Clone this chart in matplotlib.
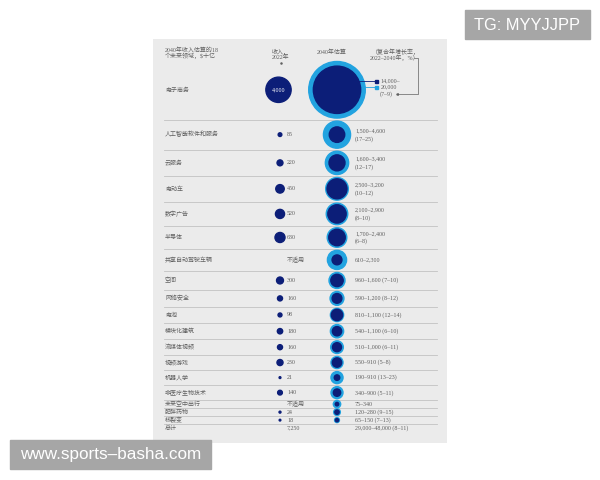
import matplotlib
matplotlib.use("Agg")
import matplotlib.pyplot as plt
import numpy as np
from matplotlib.patches import Circle, Rectangle

plt.rcParams["font.family"] = ["Liberation Serif", "Noto Sans CJK SC", "DejaVu Sans"]

# data (USD billions)
sectors = ["电子商务", "人工智能软件和服务", "云服务", "电动车", "数字广告", "半导体",
           "共享自动驾驶车辆", "空间", "网络安全", "电池", "模块化建筑", "流媒体视频",
           "视频游戏", "机器人学", "非医疗生物技术", "未来空中出行", "肥胖药物", "核裂变"]
revenue_2022 = [4000, 85, 220, 450, 520, 630, None, 300, 160, 98, 180, 160,
                230, 21, 140, None, 24, 18]
low_2040 = [14000, 1500, 1600, 2500, 2100, 1700, 610, 960, 590, 810, 540, 510,
            550, 190, 340, 75, 120, 65]
high_2040 = [20000, 4600, 3400, 3200, 2900, 2400, 2300, 1600, 1200, 1100, 1100, 1000,
             910, 910, 900, 340, 280, 150]
cagr = ["7–9", "17–25", "12–17", "10–12", "8–10", "6–8", None, "7–10", "8–12",
        "12–14", "6–10", "6–11", "5–8", "13–23", "5–11", None, "9–15", "7–13"]
total_2022 = 7250
total_2040 = (29000, 48000)
total_cagr = "8–11"

DARK = "#0c1e78"
LIGHT = "#22a3e0"
TEXT = "#606060"
LINE = "#c2c2c2"
PANEL = "#ebebeb"
FS = 4.3
K = 0.2  # px radius per sqrt(value)

fig = plt.figure(figsize=(6, 4.8), dpi=100)
ax = fig.add_axes([0, 0, 1, 1])
ax.set_xlim(0, 600)
ax.set_ylim(480, 0)
ax.axis("off")

ax.add_patch(Rectangle((153, 39), 294, 404, facecolor=PANEL, edgecolor="none", zorder=0))

def fmt(v):
    return f"{v:,}"

# header
ax.text(165, 50, "2040年收入估算的18", fontsize=FS, color=TEXT, va="center")
ax.text(165, 56, "个未来领域，$十亿", fontsize=FS, color=TEXT, va="center")
ax.text(281, 52, "收入，", fontsize=FS, color=TEXT, va="center", ha="center")
ax.text(281, 57.5, "2022年", fontsize=FS, color=TEXT, va="center", ha="center")
ax.plot([281], [63], marker="o", ms=0.8, color=TEXT)
ax.text(332, 52, "2040年估算", fontsize=FS, color=TEXT, va="center", ha="center")
ax.text(396, 52, "（复合年增长率，", fontsize=FS, color=TEXT, va="center", ha="center")
ax.text(395, 57.5, "2022–2040年，%）", fontsize=FS, color=TEXT, va="center", ha="center")

r_out = K * np.sqrt(np.array(high_2040, dtype=float))
r_in = K * np.sqrt(np.array(low_2040, dtype=float))
heights = np.where(r_out > 5, 2 * r_out + 3, 8.0)

x_rev, x_rev_txt, x_fut, x_fut_txt = 280, 287, 337, 355
top = 60.0
for i, name in enumerate(sectors):
    yc = top + heights[i] / 2
    ax.text(165, yc, name, fontsize=FS, color=TEXT, va="center")
    rev = revenue_2022[i]
    if rev is None:
        ax.text(x_rev_txt, yc, "不适用", fontsize=FS, color=TEXT, va="center")
    else:
        r = K * np.sqrt(rev)
        if i == 0:
            ax.add_patch(Circle((x_rev - 1.5, yc), r, color=DARK, zorder=3))
            ax.text(x_rev - 1.5, yc, fmt(rev), fontsize=FS, color="white",
                    va="center", ha="center", zorder=4)
        else:
            ax.add_patch(Circle((x_rev, yc), r, color=DARK, zorder=3))
            ax.text(x_rev_txt, yc, fmt(rev), fontsize=FS, color=TEXT, va="center")
    ax.add_patch(Circle((x_fut, yc), r_out[i], color=LIGHT, zorder=3))
    ax.add_patch(Circle((x_fut, yc), r_in[i], color=DARK, zorder=4))
    rng = f"{fmt(low_2040[i])}–{fmt(high_2040[i])}"
    if i == 0:
        pass
    elif i <= 5:
        ax.text(x_fut_txt, yc - 4, rng, fontsize=FS, color=TEXT, va="center")
        ax.text(x_fut_txt, yc + 4, f"({cagr[i]})", fontsize=FS, color=TEXT, va="center")
    elif cagr[i] is None:
        ax.text(x_fut_txt, yc, rng, fontsize=FS, color=TEXT, va="center")
    else:
        ax.text(x_fut_txt, yc, f"{rng} ({cagr[i]})", fontsize=FS, color=TEXT, va="center")
    top += heights[i]
    ax.plot([164, 437], [top, top], color=LINE, lw=0.6, zorder=1)

# total row
yc = top + 4
ax.text(165, yc, "总计", fontsize=FS, color=TEXT, va="center")
ax.text(x_rev_txt, yc, fmt(total_2022), fontsize=FS, color=TEXT, va="center")
ax.text(x_fut_txt, yc, f"{fmt(total_2040[0])}–{fmt(total_2040[1])} ({total_cagr})",
        fontsize=FS, color=TEXT, va="center")

# legend for first row
ax.plot([x_fut + r_in[0] - 2, 375], [81, 81], color=DARK, lw=0.6, zorder=5)
ax.plot([x_fut + r_out[0] - 1, 375], [87, 87], color=LIGHT, lw=0.6, zorder=5)
ax.add_patch(Rectangle((375, 79.5), 3, 3, color=DARK, zorder=5))
ax.add_patch(Rectangle((375, 85.5), 3, 3, color=LIGHT, zorder=5))
ax.text(380.5, 81, f"{fmt(low_2040[0])}–", fontsize=FS, color=TEXT, va="center")
ax.text(380.5, 87, fmt(high_2040[0]), fontsize=FS, color=TEXT, va="center")
ax.text(379.5, 94, f"({cagr[0]})", fontsize=FS, color=TEXT, va="center")
ax.plot([414, 418, 418, 397], [58, 58, 94, 94], color=TEXT, lw=0.5)
ax.plot([397], [94], marker="<", ms=1.2, color=TEXT)

# watermarks
ax.add_patch(Rectangle((465, 10), 125, 29, color="#a6a6a6", zorder=6))
ax.text(527.5, 25, "TG: MYYJJPP", fontsize=11.8, color="white", family="Liberation Sans",
        ha="center", va="center", zorder=7)
ax.add_patch(Rectangle((10, 440), 201, 29, color="#a6a6a6", zorder=6))
ax.text(110.5, 455, "www.sports–basha.com", fontsize=12.3, color="white",
        family="Liberation Sans", ha="center", va="center", zorder=7)

fig.savefig("out.png", dpi=100, facecolor="white")
